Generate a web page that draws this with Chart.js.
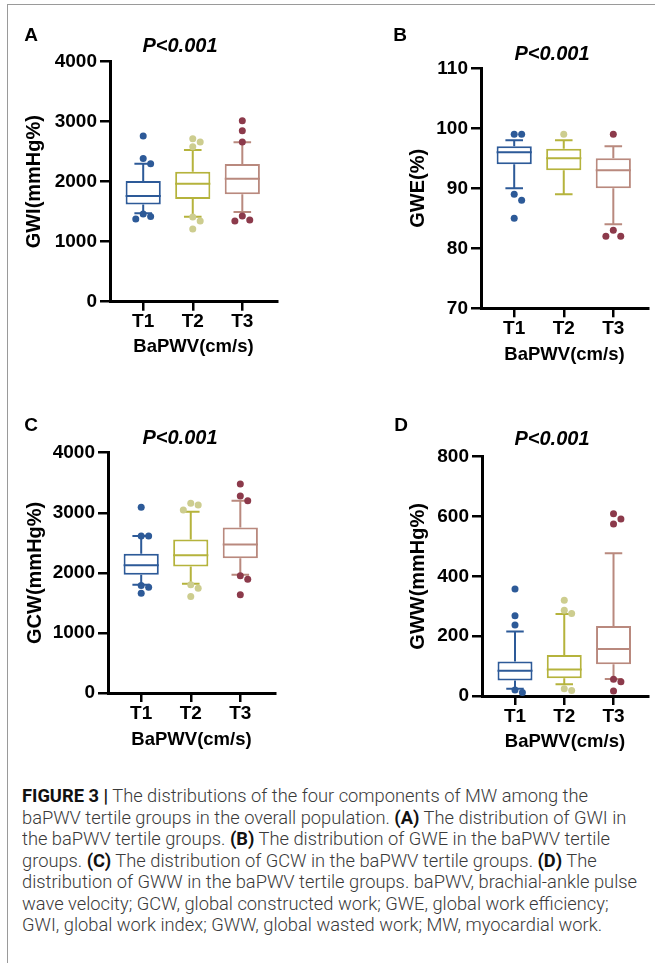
<!DOCTYPE html>
<html>
<head>
<meta charset="utf-8">
<script src="https://cdn.jsdelivr.net/npm/chart.js@4.4.1/dist/chart.umd.min.js"></script>
<style>
  html, body { margin: 0; padding: 0; background: #fff; }
  body { width: 655px; height: 967px; position: relative; overflow: hidden; font-family: "Liberation Sans", Arial, sans-serif; }
  .frame { position: absolute; left: 7px; top: 4px; width: 700px; height: 958px; border-top: 1.5px solid #9a9a9a; border-left: 1.5px solid #9a9a9a; }
  canvas { position: absolute; }
  .lbl { position: absolute; transform: translate(-50%, -50%); font-weight: bold; color: #000; white-space: nowrap; }
  .letter { font-size: 19px; }
  .ptxt { font-size: 20px; font-style: italic; }
  #caption { position: absolute; left: 22px; top: 786px; font-family: Roboto, "Liberation Sans", sans-serif; font-weight: 300; font-size: 18.5px; line-height: 21.5px; color: #3a3a3a; transform-origin: 0 0; }
  #caption div { white-space: nowrap; }
  #caption b { font-weight: 700; color: #111; }
</style>
</head>
<body>
<div class="frame"></div>
<canvas id="chartA" width="330" height="370" style="left:0;top:0"></canvas>
<canvas id="chartB" width="325" height="370" style="left:330px;top:0"></canvas>
<canvas id="chartC" width="330" height="380" style="left:0;top:385px"></canvas>
<canvas id="chartD" width="325" height="380" style="left:330px;top:385px"></canvas>

<div class="lbl letter" style="left:31px;top:35px">A</div>
<div class="lbl letter" style="left:400px;top:35px">B</div>
<div class="lbl letter" style="left:31px;top:425px">C</div>
<div class="lbl letter" style="left:401px;top:425px">D</div>
<div class="lbl ptxt" style="left:180px;top:45px">P&lt;0.001</div>
<div class="lbl ptxt" style="left:552px;top:53px">P&lt;0.001</div>
<div class="lbl ptxt" style="left:180px;top:437px">P&lt;0.001</div>
<div class="lbl ptxt" style="left:552px;top:438px">P&lt;0.001</div>

<div id="caption">
  <div><b>FIGURE 3 |</b> The distributions of the four components of MW among the</div>
  <div>baPWV tertile groups in the overall population. <b>(A)</b> The distribution of GWI in</div>
  <div>the baPWV tertile groups. <b>(B)</b> The distribution of GWE in the baPWV tertile</div>
  <div>groups. <b>(C)</b> The distribution of GCW in the baPWV tertile groups. <b>(D)</b> The</div>
  <div id="capLong">distribution of GWW in the baPWV tertile groups. baPWV, brachial-ankle pulse</div>
  <div>wave velocity; GCW, global constructed work; GWE, global work efficiency;</div>
  <div>GWI, global work index; GWW, global wasted work; MW, myocardial work.</div>
</div>

<script>
// groups on the x axis
const groups = ['T1', 'T2', 'T3'];

// GWI (mmHg%)
const gwiLow = [1475, 1417, 1495];
const gwiQ1 = [1622, 1711, 1790];
const gwiMedian = [1761, 1965, 2048];
const gwiQ3 = [2011, 2167, 2294];
const gwiHigh = [2300, 2528, 2656];
const gwiOutliers = [[2762, 2385, 2300, 1460, 1420, 1378], [2717, 2660, 2583, 1412, 1344, 1212], [3014, 2850, 2660, 1428, 1361, 1344]];
const gwiTicks = [0, 4000, 1000];

// GWE (%)
const gweLow = [90, 89, 84];
const gweQ1 = [94, 93, 90];
const gweMedian = [96, 95, 93];
const gweQ3 = [97, 96.6, 95];
const gweHigh = [98, 98, 97];
const gweOutliers = [[99, 99, 89, 88, 85], [99], [99, 83, 82, 82]];
const gweTicks = [70, 110, 10];

// GCW (mmHg%)
const gcwLow = [1801, 1817, 1967];
const gcwQ1 = [1967, 2105, 2244];
const gcwMedian = [2127, 2294, 2471];
const gcwQ3 = [2316, 2554, 2753];
const gcwHigh = [2615, 3019, 3202];
const gcwOutliers = [[3091, 2615, 2615, 1790, 1760, 1662], [3158, 3130, 3047, 1800, 1745, 1607], [3479, 3280, 3202, 1950, 1895, 1634]];
const gcwTicks = [0, 4000, 1000];

// GWW (mmHg%)
const gwwLow = [24.5, 39, 57];
const gwwQ1 = [52, 59, 106];
const gwwMedian = [84, 89, 157];
const gwwQ3 = [115, 137, 234];
const gwwHigh = [216, 274, 477];
const gwwOutliers = [[358, 268, 237, 20, 12], [320, 287, 276, 24, 18], [609, 592, 575, 56, 48, 17]];
const gwwTicks = [0, 800, 200];

const boxColors = ['#2d5a98', '#b5b33c', '#b9897e'];
const dotColors = ['#2d5a98', '#cdcd8f', '#8c3a4b'];
const fontFamily = '"Liberation Sans", Arial, sans-serif';

// spread outliers sideways when they would overlap
function outlierPoints(outs, ticks) {
  const pts = [], cols = [];
  const span = ticks[1] - ticks[0];
  outs.forEach((vals, g) => {
    const placed = [];
    vals.slice().sort((a, b) => b - a).forEach(v => {
      const tries = [0, 0.15, -0.15, 0.3, -0.3];
      let pick = tries[tries.length - 1];
      for (const k of tries) {
        const ok = placed.every(p => Math.hypot((p.k - k) * 49.5, (p.v - v) / span * 240) >= 7);
        if (ok) { pick = k; break; }
      }
      placed.push({k: pick, v: v});
    });
    placed.forEach(p => { pts.push({x: g + p.k, y: p.v}); cols.push(dotColors[g]); });
  });
  return {pts, cols};
}

function whiskerPlugin(stats) {
  return {
    id: 'whiskers',
    afterDatasetDraw(chart, args) {
      if (args.meta.type !== 'bar') return;
      const ys = chart.scales.y, ctx = chart.ctx;
      args.meta.data.forEach((bar, i) => {
        const half = bar.width / 2;
        const yMed = ys.getPixelForValue(stats.median[i]);
        const yQ1 = ys.getPixelForValue(stats.q1[i]);
        const yQ3 = ys.getPixelForValue(stats.q3[i]);
        const yLo = ys.getPixelForValue(stats.low[i]);
        const yHi = ys.getPixelForValue(stats.high[i]);
        ctx.save();
        ctx.strokeStyle = boxColors[i];
        ctx.lineWidth = 2;
        ctx.beginPath();
        ctx.moveTo(bar.x - half, yMed); ctx.lineTo(bar.x + half, yMed);
        ctx.moveTo(bar.x, yQ3); ctx.lineTo(bar.x, yHi);
        ctx.moveTo(bar.x - half / 2, yHi); ctx.lineTo(bar.x + half / 2, yHi);
        ctx.moveTo(bar.x, yQ1); ctx.lineTo(bar.x, yLo);
        ctx.moveTo(bar.x - half / 2, yLo); ctx.lineTo(bar.x + half / 2, yLo);
        ctx.stroke();
        ctx.restore();
      });
    }
  };
}

function makePanel(id, yTitle, stats, ticks, box) {
  const o = outlierPoints(stats.outliers, ticks);
  const canvas = document.getElementById(id);
  const cw = canvas.width, ch = canvas.height;
  const bottomEdge = box.xTitleY + 11.1;
  new Chart(canvas, {
    type: 'bar',
    data: {
      datasets: [{
        type: 'scatter',
        order: 0,
        data: o.pts,
        pointBackgroundColor: o.cols,
        pointBorderWidth: 0,
        pointRadius: 3.5
      }, {
        type: 'bar',
        order: 1,
        data: groups.map((g, i) => ({x: i, y: [stats.q1[i], stats.q3[i]]})),
        backgroundColor: '#fff',
        borderColor: boxColors,
        borderWidth: 2,
        borderSkipped: false,
        barPercentage: 0.71,
        categoryPercentage: 1
      }]
    },
    options: {
      responsive: false,
      animation: false,
      devicePixelRatio: 1,
      layout: { padding: { left: 0, top: box.top, right: cw - box.right, bottom: ch - bottomEdge } },
      plugins: { legend: { display: false }, tooltip: { enabled: false } },
      scales: {
        x: {
          type: 'linear',
          min: -0.67, max: 2.7,
          offset: false,
          afterBuildTicks: s => { s.ticks = groups.map((g, i) => ({value: i})); },
          afterFit: s => { s.height = bottomEdge - box.bottom; },
          ticks: { callback: v => groups[v], autoSkip: false, color: '#000', padding: 0, font: { family: fontFamily, size: 19, weight: 'bold' } },
          grid: { display: true, offset: false, drawOnChartArea: false, drawTicks: true, tickLength: 9, color: '#000', lineWidth: 2.5 },
          border: { display: true, color: '#000', width: 3 },
          title: { display: true, text: 'BaPWV(cm/s)', color: '#000', padding: 0, font: { family: fontFamily, size: 18.5, weight: 'bold' } }
        },
        y: {
          min: ticks[0], max: ticks[1],
          afterFit: s => { s.width = box.left; },
          ticks: { stepSize: ticks[2], callback: v => String(v), color: '#000', padding: 3, font: { family: fontFamily, size: 19, weight: 'bold' } },
          grid: { display: true, drawOnChartArea: false, drawTicks: true, tickLength: 10, color: '#000', lineWidth: 2.5 },
          border: { display: true, color: '#000', width: 3 },
          title: { display: true, text: yTitle, color: '#000', padding: { top: box.yTitleX - 12, bottom: 0 }, font: { family: fontFamily, size: 20, weight: 'bold' } }
        }
      }
    },
    plugins: [whiskerPlugin(stats)]
  });
}

makePanel('chartA', 'GWI(mmHg%)',
  { low: gwiLow, q1: gwiQ1, median: gwiMedian, q3: gwiQ3, high: gwiHigh, outliers: gwiOutliers }, gwiTicks,
  { left: 110, top: 61.7, right: 277, bottom: 301.7, xTitleY: 347, yTitleX: 34 });
makePanel('chartB', 'GWE(%)',
  { low: gweLow, q1: gweQ1, median: gweMedian, q3: gweQ3, high: gweHigh, outliers: gweOutliers }, gweTicks,
  { left: 151, top: 68.3, right: 318, bottom: 308.3, xTitleY: 355, yTitleX: 88 });
makePanel('chartC', 'GCW(mmHg%)',
  { low: gcwLow, q1: gcwQ1, median: gcwMedian, q3: gcwQ3, high: gcwHigh, outliers: gcwOutliers }, gcwTicks,
  { left: 108, top: 67.7, right: 275, bottom: 308, xTitleY: 355, yTitleX: 35 });
makePanel('chartD', 'GWW(mmHg%)',
  { low: gwwLow, q1: gwwQ1, median: gwwMedian, q3: gwwQ3, high: gwwHigh, outliers: gwwOutliers }, gwwTicks,
  { left: 152, top: 71.7, right: 318, bottom: 311, xTitleY: 357, yTitleX: 88 });

// stretch caption so the long line matches the printed width
const cap = document.getElementById('caption');
const longW = document.getElementById('capLong').getBoundingClientRect().width;
cap.style.transform = 'scaleX(' + (615 / longW) + ')';
</script>
</body>
</html>
